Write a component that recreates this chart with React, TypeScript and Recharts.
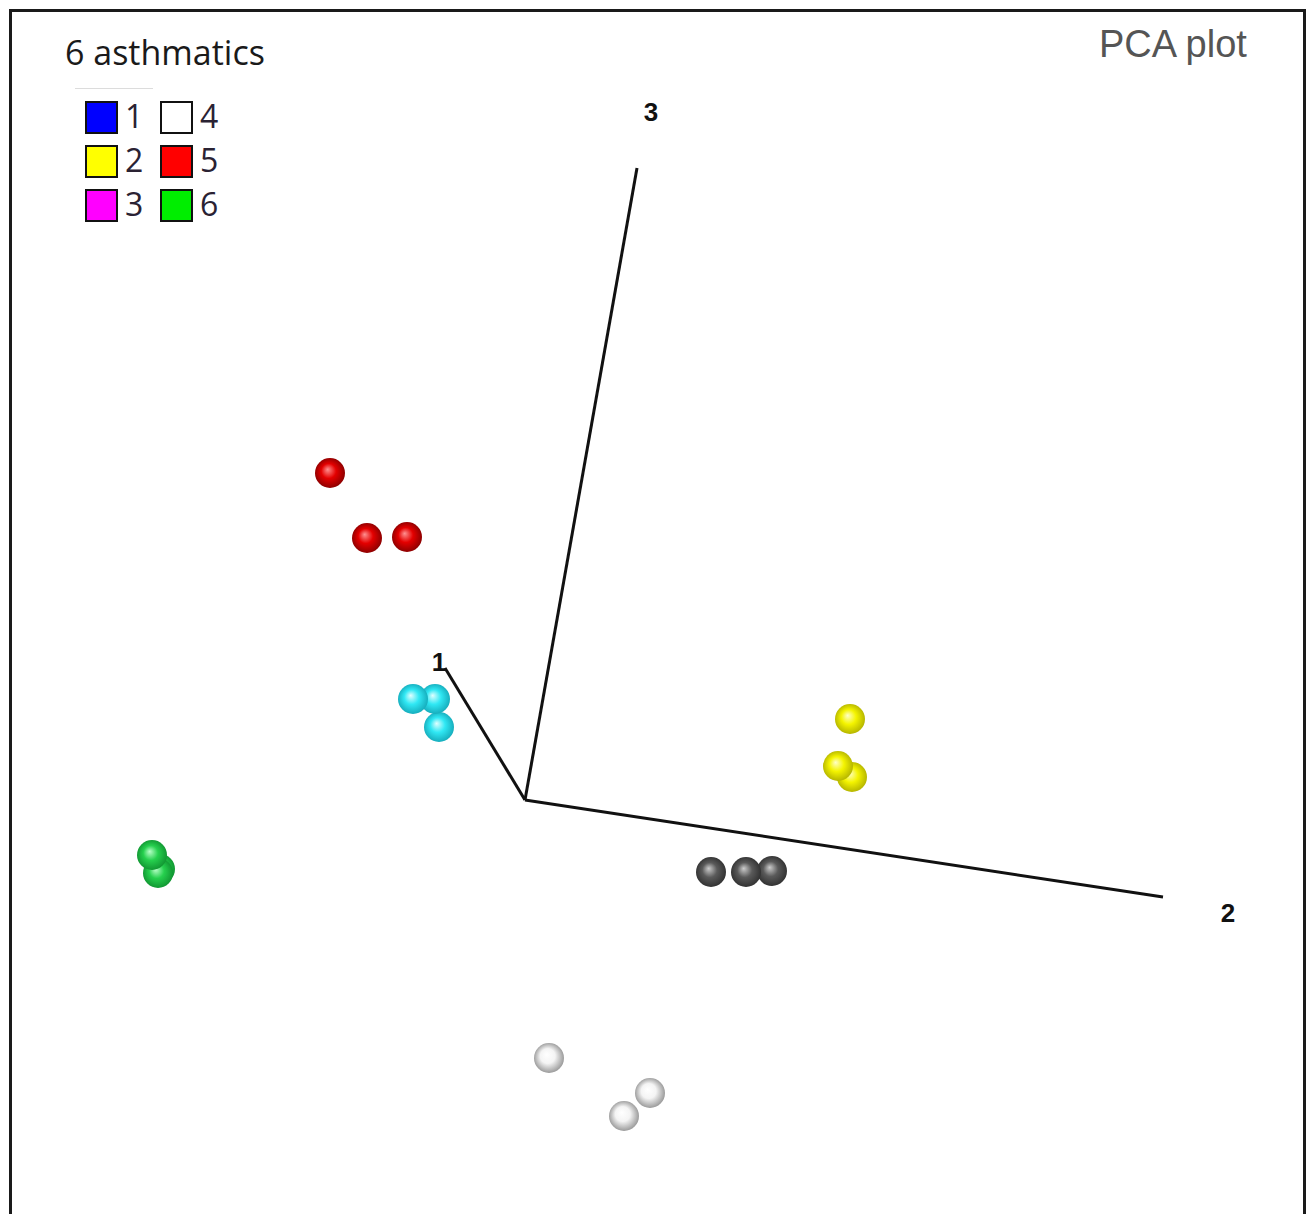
import React from 'react';
import { ScatterChart, Scatter, XAxis, YAxis, ReferenceLine, ReferenceDot } from 'recharts';

// PCA scores projected on the viewing plane (origin of the 3 axes = 0,0)
const redScores = [
  { x: -19.5, y: 32.7 },
  { x: -15.8, y: 26.2 },
  { x: -11.8, y: 26.3 },
];
const cyanScores = [
  { x: -8.6, y: 7.3 },
  { x: -9.0, y: 10.1 },
  { x: -11.2, y: 10.1 },
];
const yellowScores = [
  { x: 32.5, y: 8.1 },
  { x: 32.7, y: 2.3 },
  { x: 31.3, y: 3.4 },
];
const grayScores = [
  { x: 18.6, y: -7.2 },
  { x: 24.7, y: -7.1 },
  { x: 22.1, y: -7.2 },
];
const greenScores = [
  { x: -36.5, y: -6.9 },
  { x: -36.7, y: -7.3 },
  { x: -37.3, y: -5.5 },
];
const whiteScores = [
  { x: 2.4, y: -25.8 },
  { x: 12.5, y: -29.3 },
  { x: 9.9, y: -31.6 },
];

// end points of the three principal component axes
const axisNames = ['1', '2', '3'];
const axisEnds = [
  { x: -8.0, y: 13.2 },
  { x: 63.8, y: -9.7 },
  { x: 11.2, y: 63.2 },
];
const axisLabelPos = [
  { x: -8.6, y: 13.8 },
  { x: 70.3, y: -11.3 },
  { x: 12.6, y: 68.8 },
];

const legendLabels = ['1', '2', '3', '4', '5', '6'];
const legendColors = ['#0000ff', '#ffff00', '#ff00ff', '#ffffff', '#ff0000', '#00ee00'];

const xDomain = [-52.5, 78.7];
const yDomain = [-41.4, 80.0];

// light, mid, dark shades for each ball colour
const sphereShades: Record<string, string[]> = {
  red: ['#ff9090', '#e40000', '#800000'],
  cyan: ['#e0ffff', '#30e8f4', '#12a4b4'],
  yellow: ['#ffffc8', '#f4f400', '#acac00'],
  gray: ['#cccccc', '#5a5a5a', '#2c2c2c'],
  green: ['#b8ffc8', '#26d04e', '#0e8e2e'],
  white: ['#ffffff', '#f4f4f4', '#8c8c8c'],
};

const makeSphere = (name: string) => (props: any) => {
  const { cx, cy } = props;
  if (cx == null || cy == null) return <g />;
  const [light, mid, dark] = sphereShades[name];
  const id = `sph-${name}-${Math.round(cx)}-${Math.round(cy)}`;
  return (
    <g>
      <defs>
        <radialGradient id={id} cx="50%" cy="50%" r="55%" fx="42%" fy="38%">
          <stop offset="0%" stopColor={light} />
          <stop offset="45%" stopColor={mid} />
          <stop offset="100%" stopColor={dark} />
        </radialGradient>
      </defs>
      <circle cx={cx} cy={cy} r={15} fill={`url(#${id})`} />
    </g>
  );
};

const AxisLabel = (text: string) => (props: any) => (
  <text
    x={props.cx}
    y={props.cy}
    textAnchor="middle"
    dominantBaseline="central"
    fontFamily="'Liberation Sans', Arial, sans-serif"
    fontWeight="bold"
    fontSize={26}
    fill="#111"
  >
    {text}
  </text>
);

const series = [
  { name: 'red', data: redScores },
  { name: 'cyan', data: cyanScores },
  { name: 'yellow', data: yellowScores },
  { name: 'gray', data: grayScores },
  { name: 'green', data: greenScores },
  { name: 'white', data: whiteScores },
];

const LegendBox = () => (
  <div style={{ position: 'absolute', left: 0, top: 0 }}>
    <div style={{ position: 'absolute', left: 75, top: 88, width: 78, height: 1, background: '#dcdcdc' }} />
    {legendLabels.map((lab, i) => {
      const col = Math.floor(i / 3);
      const row = i % 3;
      const left = 85 + col * 75;
      const top = 101 + row * 44;
      return (
        <div key={lab}>
          <div
            style={{
              position: 'absolute',
              left,
              top,
              width: 33,
              height: 33,
              boxSizing: 'border-box',
              border: '2px solid #111',
              background: legendColors[i],
            }}
          />
          <div
            style={{
              position: 'absolute',
              left: left + 40,
              top: top - 4,
              fontFamily: "'Open Sans', sans-serif",
              fontSize: 32,
              lineHeight: '38px',
              color: '#2a2233',
            }}
          >
            {lab}
          </div>
        </div>
      );
    })}
  </div>
);

export default function App() {
  return (
    <div
      style={{
        position: 'absolute',
        left: 0,
        top: 0,
        width: 1312,
        height: 1214,
        overflow: 'hidden',
        background: '#fff',
      }}
    >
      <ScatterChart width={1312} height={1214} margin={{ top: 0, right: 0, bottom: 0, left: 0 }}>
        <XAxis type="number" dataKey="x" domain={xDomain} hide allowDataOverflow />
        <YAxis type="number" dataKey="y" domain={yDomain} hide allowDataOverflow />
        {axisEnds.map((end, i) => (
          <ReferenceLine
            key={axisNames[i]}
            segment={[{ x: 0, y: 0 }, end]}
            stroke="#111"
            strokeWidth={3}
            ifOverflow="visible"
          />
        ))}
        {axisLabelPos.map((p, i) => (
          <ReferenceDot
            key={'lab' + axisNames[i]}
            x={p.x}
            y={p.y}
            r={0}
            ifOverflow="visible"
            shape={AxisLabel(axisNames[i])}
          />
        ))}
        {series.map((s) => (
          <Scatter key={s.name} name={s.name} data={s.data} shape={makeSphere(s.name)} isAnimationActive={false} />
        ))}
      </ScatterChart>
      <div
        style={{
          position: 'absolute',
          left: 9,
          top: 9,
          width: 1297,
          height: 1400,
          boxSizing: 'border-box',
          border: '3px solid #1a1a1a',
          pointerEvents: 'none',
        }}
      />
      <div
        style={{
          position: 'absolute',
          left: 65,
          top: 35,
          fontFamily: "'Open Sans', sans-serif",
          fontSize: 34,
          lineHeight: 1,
          color: '#1a1a1a',
          whiteSpace: 'nowrap',
        }}
      >
        6 asthmatics
      </div>
      <div
        style={{
          position: 'absolute',
          left: 1099,
          top: 25,
          fontFamily: "'Liberation Sans', Arial, sans-serif",
          fontSize: 38,
          lineHeight: 1,
          color: '#555',
          whiteSpace: 'nowrap',
        }}
      >
        PCA plot
      </div>
      <LegendBox />
    </div>
  );
}
